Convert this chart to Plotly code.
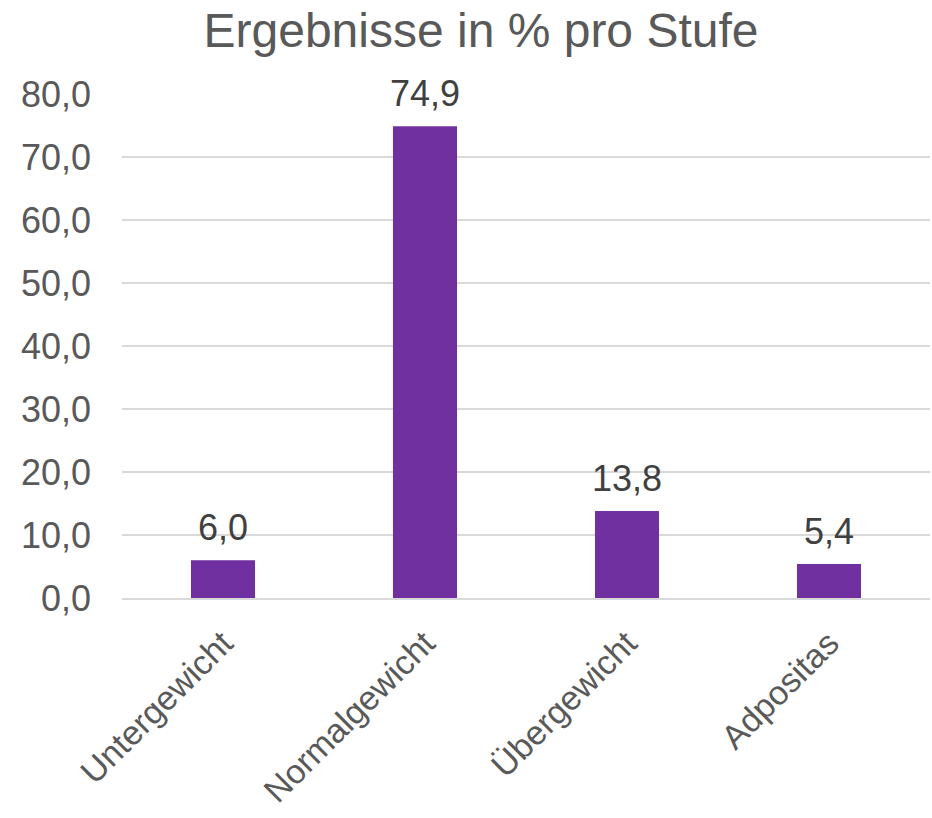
import plotly.graph_objects as go

# Anteil je BMI-Stufe in Prozent
categories = ["Untergewicht", "Normalgewicht", "Übergewicht", "Adpositas"]
values = [6.0, 74.9, 13.8, 5.4]
y_ticks = [0, 10, 20, 30, 40, 50, 60, 70, 80]

BAR_COLOR = "#7030A0"
AXIS_TEXT = "#595959"
LABEL_TEXT = "#404040"
GRID = "#D9D9D9"
FONT = "Liberation Sans, Arial, sans-serif"

fig = go.Figure(
    go.Bar(
        x=categories,
        y=values,
        marker=dict(color=BAR_COLOR, line=dict(width=0)),
        hoverinfo="skip",
    )
)

# Wertbeschriftungen über den Balken
for cat, val in zip(categories, values):
    fig.add_annotation(
        x=cat,
        y=val,
        text=f"{val:.1f}".replace(".", ","),
        showarrow=False,
        yanchor="bottom",
        yshift=10,
        font=dict(family=FONT, size=36, color=LABEL_TEXT),
    )

fig.update_layout(
    width=932,
    height=818,
    margin=dict(l=122, r=2, t=94, b=220),
    paper_bgcolor="white",
    plot_bgcolor="white",
    separators=",.",
    bargap=0.683,
    showlegend=False,
    font=dict(family=FONT, color=AXIS_TEXT),
    title=dict(
        text="Ergebnisse in % pro Stufe",
        x=481 / 932,
        xanchor="center",
        xref="container",
        y=1 - 30 / 818,
        yanchor="middle",
        yref="container",
        font=dict(family=FONT, size=48, color=AXIS_TEXT),
    ),
    xaxis=dict(
        tickangle=-45,
        tickfont=dict(family=FONT, size=34, color=AXIS_TEXT),
        showgrid=False,
        showline=True,
        linecolor=GRID,
        linewidth=1.5,
        ticks="",
        ticklabelstandoff=10,
        automargin=False,
    ),
    yaxis=dict(
        range=[0, 80],
        tickvals=y_ticks,
        tickformat=".1f",
        tickfont=dict(family=FONT, size=36, color=AXIS_TEXT),
        showgrid=True,
        gridcolor=GRID,
        gridwidth=1.5,
        zeroline=False,
        showline=False,
        ticks="",
        ticklabelstandoff=30,
        automargin=False,
    ),
)

fig.write_html("out.html")
